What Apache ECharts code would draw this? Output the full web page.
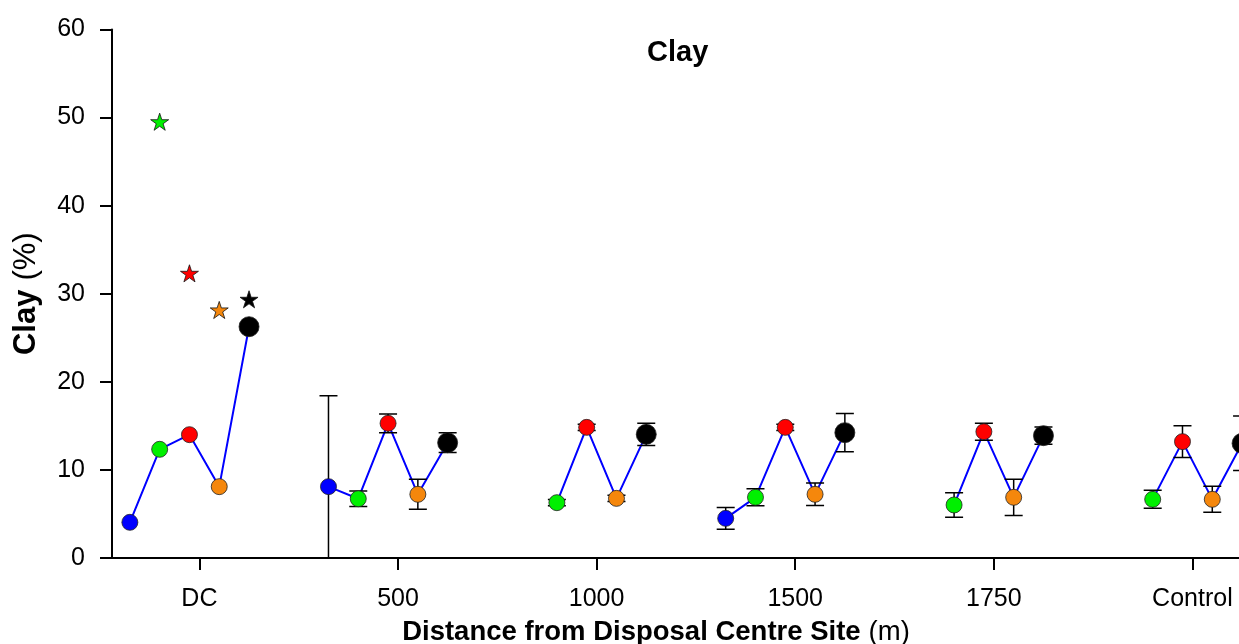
<!DOCTYPE html>
<html>
<head>
<meta charset="utf-8">
<title>Clay</title>
<script src="https://cdn.jsdelivr.net/npm/echarts@6/dist/echarts.min.js"></script>
<style>
    html, body { margin: 0; padding: 0; background: #fff; }
    #main { width: 1239px; height: 644px; }
</style>
</head>
<body>
<div id="main"></div>
<script>
    // sites along the x axis
    var groups = ['DC', '500', '1000', '1500', '1750', 'Control'];

    // mean clay % per site, one array per marker colour (null = no sample)
    var blueMean   = [4.05, 8.10, null, 4.50, null, null];
    var greenMean  = [12.34, 6.73, 6.28, 6.89, 6.02, 6.66];
    var redMean    = [14.00, 15.29, 14.83, 14.83, 14.34, 13.21];
    var orangeMean = [8.10, 7.23, 6.77, 7.23, 6.89, 6.66];
    var blackMean  = [26.26, 13.09, 14.04, 14.23, 13.89, 13.02];

    // error bar half widths
    var blueErr   = [0, 10.33, null, 1.23, null, null];
    var greenErr  = [0, 0.89, 0.35, 0.97, 1.38, 1.02];
    var redErr    = [0, 1.06, 0.35, 0.35, 0.97, 1.80];
    var orangeErr = [0, 1.70, 0.35, 1.28, 2.06, 1.48];
    var blackErr  = [0, 1.12, 1.27, 2.17, 0.97, 3.10];

    // star values at DC (blue, green, red, orange, black)
    var dcStars = [null, 49.53, 32.32, 28.16, 29.37];

    var meanSets = [blueMean, greenMean, redMean, orangeMean, blackMean];
    var errSets = [blueErr, greenErr, redErr, orangeErr, blackErr];
    var colors = ['#0000ff', '#00f000', '#ff0000', '#f5870c', '#000000'];
    var offsets = [-0.35, -0.2, -0.05, 0.1, 0.25];
    var sizes = [16, 16, 16, 16, 20];
    var font = 'Liberation Sans';

    var starPath = 'path://M50 0 L61.23 34.55 L97.55 34.55 L68.16 55.9 L79.39 90.45 L50 69.1 L20.61 90.45 L31.84 55.9 L2.45 34.55 L38.77 34.55 Z';

    var series = [];

    // blue connecting line inside each site
    groups.forEach(function (g, i) {
        var pts = [];
        meanSets.forEach(function (arr, k) {
            if (arr[i] != null) pts.push([i + offsets[k], arr[i]]);
        });
        series.push({
            type: 'line',
            data: pts,
            symbol: 'none',
            silent: true,
            z: 1,
            lineStyle: { color: '#0000ff', width: 2 }
        });
    });

    // error bars
    meanSets.forEach(function (arr, k) {
        var data = [];
        arr.forEach(function (v, i) {
            var e = errSets[k][i];
            if (v != null && e) data.push([i + offsets[k], v - e, v + e]);
        });
        series.push({
            type: 'custom',
            data: data,
            clip: true,
            silent: true,
            z: 2,
            renderItem: function (params, api) {
                var x = api.value(0);
                var hi = api.coord([x, api.value(2)]);
                var lo = api.coord([x, api.value(1)]);
                var w = 9;
                var st = { stroke: '#000', lineWidth: 1.5 };
                return {
                    type: 'group',
                    children: [
                        { type: 'line', shape: { x1: hi[0], y1: hi[1], x2: lo[0], y2: lo[1] }, style: st },
                        { type: 'line', shape: { x1: hi[0] - w, y1: hi[1], x2: hi[0] + w, y2: hi[1] }, style: st },
                        { type: 'line', shape: { x1: lo[0] - w, y1: lo[1], x2: lo[0] + w, y2: lo[1] }, style: st }
                    ]
                };
            }
        });
    });

    // mean markers
    meanSets.forEach(function (arr, k) {
        var data = [];
        arr.forEach(function (v, i) {
            if (v != null) data.push([i + offsets[k], v]);
        });
        series.push({
            type: 'scatter',
            data: data,
            symbol: 'circle',
            symbolSize: sizes[k],
            z: 3,
            itemStyle: { color: colors[k], borderColor: '#222', borderWidth: 0.8, opacity: 1 }
        });
    });

    // stars above DC
    series.push({
        type: 'scatter',
        z: 3,
        symbol: starPath,
        symbolSize: 18,
        symbolKeepAspect: true,
        data: dcStars.map(function (v, k) {
            return v == null ? null : {
                value: [offsets[k], v],
                itemStyle: { color: colors[k], borderColor: '#111', borderWidth: 0.8, opacity: 1 }
            };
        }).filter(function (d) { return d; })
    });

    var option = {
        animation: false,
        backgroundColor: '#fff',
        title: {
            text: 'Clay',
            left: 642,
            top: 33,
            textStyle: { fontFamily: font, fontWeight: 'bold', fontSize: 29, color: '#000' }
        },
        grid: { left: 112, top: 29.5, width: 1140, height: 528.5, outerBoundsMode: 'none' },
        xAxis: {
            type: 'value',
            min: -0.44,
            max: 5.3,
            splitLine: { show: false },
            axisLine: { onZero: false, lineStyle: { color: '#000', width: 2 } },
            axisTick: { customValues: [0, 1, 2, 3, 4, 5], length: 12, lineStyle: { color: '#000', width: 2 } },
            axisLabel: {
                customValues: [0, 1, 2, 3, 4, 5],
                formatter: function (v) { return groups[Math.round(v)]; },
                margin: 29,
                fontFamily: font,
                fontSize: 25,
                color: '#000'
            },
            name: '{b|Distance from Disposal Centre Site}{n|(m)}',
            nameLocation: 'middle',
            nameGap: 60,
            nameTextStyle: {
                padding: [0, 52, 0, 0],
                rich: {
                    b: { fontFamily: font, fontWeight: 'bold', fontSize: 27.5, color: '#000' },
                    n: { fontFamily: font, fontSize: 27.5, color: '#000', padding: [0, 0, 0, 8] }
                }
            }
        },
        yAxis: {
            type: 'value',
            min: 0,
            max: 60,
            interval: 10,
            splitLine: { show: false },
            axisLine: { show: true, onZero: false, lineStyle: { color: '#000', width: 2 } },
            axisTick: { show: true, length: 12, lineStyle: { color: '#000', width: 2 } },
            axisLabel: { margin: 27, fontFamily: font, fontSize: 25, color: '#000' },
            name: '{b|Clay}{n|(%)}',
            nameLocation: 'middle',
            nameGap: 70,
            nameTextStyle: {
                rich: {
                    b: { fontFamily: font, fontWeight: 'bold', fontSize: 31, color: '#000' },
                    n: { fontFamily: font, fontSize: 31, color: '#000', padding: [0, 0, 0, 9] }
                }
            }
        },
        series: series
    };

    var myChart = echarts.init(document.getElementById('main'));
    myChart.setOption(option);
</script>
</body>
</html>
